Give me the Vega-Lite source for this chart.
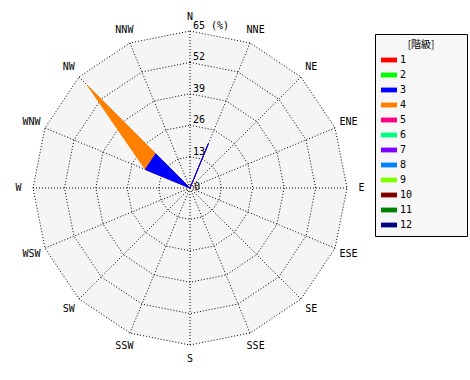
{
  "$schema": "https://vega.github.io/schema/vega-lite/v6.json",
  "width": 314,
  "height": 314,
  "autosize": {"type": "none"},
  "padding": {"left": 33, "top": 31, "right": 123, "bottom": 35},
  "background": "white",
  "view": {"stroke": null},
  "datasets": {
    "dirs": [
      {"dir": "N", "deg": 0}, {"dir": "NNE", "deg": 22.5}, {"dir": "NE", "deg": 45}, {"dir": "ENE", "deg": 67.5},
      {"dir": "E", "deg": 90}, {"dir": "ESE", "deg": 112.5}, {"dir": "SE", "deg": 135}, {"dir": "SSE", "deg": 157.5},
      {"dir": "S", "deg": 180}, {"dir": "SSW", "deg": 202.5}, {"dir": "SW", "deg": 225}, {"dir": "WSW", "deg": 247.5},
      {"dir": "W", "deg": 270}, {"dir": "WNW", "deg": 292.5}, {"dir": "NW", "deg": 315}, {"dir": "NNW", "deg": 337.5}
    ],
    "rings": [
      {"ring": 65, "label": "65 (%)", "deg": [0, 22.5, 45, 67.5, 90, 112.5, 135, 157.5, 180, 202.5, 225, 247.5, 270, 292.5, 315, 337.5]},
      {"ring": 52, "label": "52", "deg": [0, 22.5, 45, 67.5, 90, 112.5, 135, 157.5, 180, 202.5, 225, 247.5, 270, 292.5, 315, 337.5]},
      {"ring": 39, "label": "39", "deg": [0, 22.5, 45, 67.5, 90, 112.5, 135, 157.5, 180, 202.5, 225, 247.5, 270, 292.5, 315, 337.5]},
      {"ring": 26, "label": "26", "deg": [0, 22.5, 45, 67.5, 90, 112.5, 135, 157.5, 180, 202.5, 225, 247.5, 270, 292.5, 315, 337.5]},
      {"ring": 13, "label": "13", "deg": [0, 22.5, 45, 67.5, 90, 112.5, 135, 157.5, 180, 202.5, 225, 247.5, 270, 292.5, 315, 337.5]},
      {"ring": 0, "label": "0", "deg": [0]}
    ],
    "wind": [
      {"dir": "N", "deg": 0, "cls": "3", "pct": 0}, {"dir": "NNE", "deg": 22.5, "cls": "3", "pct": 20},
      {"dir": "NE", "deg": 45, "cls": "3", "pct": 0}, {"dir": "ENE", "deg": 67.5, "cls": "3", "pct": 0},
      {"dir": "E", "deg": 90, "cls": "3", "pct": 0}, {"dir": "ESE", "deg": 112.5, "cls": "3", "pct": 0},
      {"dir": "SE", "deg": 135, "cls": "3", "pct": 0}, {"dir": "SSE", "deg": 157.5, "cls": "3", "pct": 0},
      {"dir": "S", "deg": 180, "cls": "3", "pct": 0}, {"dir": "SSW", "deg": 202.5, "cls": "3", "pct": 0},
      {"dir": "SW", "deg": 225, "cls": "3", "pct": 0}, {"dir": "WSW", "deg": 247.5, "cls": "3", "pct": 0},
      {"dir": "W", "deg": 270, "cls": "3", "pct": 0}, {"dir": "WNW", "deg": 292.5, "cls": "3", "pct": 20},
      {"dir": "NW", "deg": 315, "cls": "3", "pct": 20}, {"dir": "NNW", "deg": 337.5, "cls": "3", "pct": 0},
      {"dir": "N", "deg": 0, "cls": "4", "pct": 0}, {"dir": "NNE", "deg": 22.5, "cls": "4", "pct": 0},
      {"dir": "NE", "deg": 45, "cls": "4", "pct": 0}, {"dir": "ENE", "deg": 67.5, "cls": "4", "pct": 0},
      {"dir": "E", "deg": 90, "cls": "4", "pct": 0}, {"dir": "ESE", "deg": 112.5, "cls": "4", "pct": 0},
      {"dir": "SE", "deg": 135, "cls": "4", "pct": 0}, {"dir": "SSE", "deg": 157.5, "cls": "4", "pct": 0},
      {"dir": "S", "deg": 180, "cls": "4", "pct": 0}, {"dir": "SSW", "deg": 202.5, "cls": "4", "pct": 0},
      {"dir": "SW", "deg": 225, "cls": "4", "pct": 0}, {"dir": "WSW", "deg": 247.5, "cls": "4", "pct": 0},
      {"dir": "W", "deg": 270, "cls": "4", "pct": 0}, {"dir": "WNW", "deg": 292.5, "cls": "4", "pct": 0},
      {"dir": "NW", "deg": 315, "cls": "4", "pct": 40}, {"dir": "NNW", "deg": 337.5, "cls": "4", "pct": 0}
    ]
  },
  "layer": [
    {
      "data": {"name": "rings"},
      "transform": [
        {"filter": "datum.ring == 65"},
        {"flatten": ["deg"]},
        {"calculate": "datum.ring * sin(datum.deg * PI / 180)", "as": "px"},
        {"calculate": "datum.ring * cos(datum.deg * PI / 180)", "as": "py"}
      ],
      "mark": {"type": "line", "interpolate": "linear-closed", "fill": "#f5f5f5", "strokeWidth": 0, "strokeOpacity": 0},
      "encoding": {
        "x": {"field": "px", "type": "quantitative", "scale": {"domain": [-65, 65], "nice": false, "zero": false}, "axis": null},
        "y": {"field": "py", "type": "quantitative", "scale": {"domain": [-65, 65], "nice": false, "zero": false}, "axis": null},
        "order": {"field": "deg", "type": "quantitative"}
      }
    },
    {
      "data": {"name": "rings"},
      "transform": [
        {"filter": "datum.ring > 0"},
        {"flatten": ["deg"]},
        {"calculate": "datum.ring * sin(datum.deg * PI / 180)", "as": "px"},
        {"calculate": "datum.ring * cos(datum.deg * PI / 180)", "as": "py"}
      ],
      "mark": {"type": "line", "interpolate": "linear-closed", "color": "black", "strokeWidth": 1, "strokeDash": [1, 2]},
      "encoding": {
        "x": {"field": "px", "type": "quantitative"},
        "y": {"field": "py", "type": "quantitative"},
        "detail": {"field": "ring", "type": "nominal"},
        "order": {"field": "deg", "type": "quantitative"}
      }
    },
    {
      "data": {"name": "dirs"},
      "transform": [
        {"calculate": "0", "as": "ox"},
        {"calculate": "65 * sin(datum.deg * PI / 180)", "as": "px"},
        {"calculate": "65 * cos(datum.deg * PI / 180)", "as": "py"}
      ],
      "mark": {"type": "rule", "color": "black", "strokeWidth": 1, "strokeDash": [1, 2]},
      "encoding": {
        "x": {"field": "ox", "type": "quantitative"},
        "y": {"field": "ox", "type": "quantitative"},
        "x2": {"field": "px"},
        "y2": {"field": "py"}
      }
    },
    {
      "data": {"name": "wind"},
      "transform": [
        {"stack": "pct", "groupby": ["dir"], "sort": [{"field": "cls", "order": "ascending"}], "as": ["lo", "hi"]},
        {"filter": "datum.cls == '4'"},
        {"calculate": "datum.hi * sin(datum.deg * PI / 180)", "as": "px"},
        {"calculate": "datum.hi * cos(datum.deg * PI / 180)", "as": "py"}
      ],
      "mark": {"type": "line", "interpolate": "linear-closed", "strokeWidth": 1},
      "encoding": {
        "x": {"field": "px", "type": "quantitative"},
        "y": {"field": "py", "type": "quantitative"},
        "order": {"field": "deg", "type": "quantitative"},
        "fill": {"field": "cls", "type": "nominal", "scale": {"domain": ["1","2","3","4","5","6","7","8","9","10","11","12"], "range": ["#ff0000","#00ff00","#0000ff","#ff8000","#ff0080","#00ff80","#8000ff","#0080ff","#80ff00","#800000","#008000","#000080"]},
          "legend": {"title": "[階級]", "orient": "none", "legendX": 342, "legendY": 3, "symbolType": "M-1,-0.3H1V0.3H-1Z", "symbolSize": 256, "symbolStrokeWidth": 0, "rowPadding": 2, "padding": 6, "fillColor": "#f7f7f7", "strokeColor": "black", "titleFont": "Noto Sans CJK JP", "titleFontSize": 10, "titleFontWeight": "normal", "titleColor": "black", "titleAnchor": "middle", "titlePadding": 2, "labelFont": "DejaVu Sans Mono", "labelFontSize": 10, "labelColor": "black", "labelOffset": 3, "labelExpr": "datum.label + '\u00a0\u00a0\u00a0\u00a0\u00a0\u00a0\u00a0\u2002\u200b'"}},
        "stroke": {"field": "cls", "type": "nominal", "scale": {"domain": ["1","2","3","4","5","6","7","8","9","10","11","12"], "range": ["#ff0000","#00ff00","#0000ff","#ff8000","#ff0080","#00ff80","#8000ff","#0080ff","#80ff00","#800000","#008000","#000080"]}, "legend": null}
      }
    },
    {
      "data": {"name": "wind"},
      "transform": [
        {"stack": "pct", "groupby": ["dir"], "sort": [{"field": "cls", "order": "ascending"}], "as": ["lo", "hi"]},
        {"filter": "datum.cls == '3'"},
        {"calculate": "datum.hi * sin(datum.deg * PI / 180)", "as": "px"},
        {"calculate": "datum.hi * cos(datum.deg * PI / 180)", "as": "py"}
      ],
      "mark": {"type": "line", "interpolate": "linear-closed", "strokeWidth": 1},
      "encoding": {
        "x": {"field": "px", "type": "quantitative"},
        "y": {"field": "py", "type": "quantitative"},
        "order": {"field": "deg", "type": "quantitative"},
        "fill": {"field": "cls", "type": "nominal"},
        "stroke": {"field": "cls", "type": "nominal", "legend": null}
      }
    },
    {
      "data": {"name": "dirs"},
      "transform": [
        {"calculate": "71 * sin(datum.deg * PI / 180)", "as": "px"},
        {"calculate": "71 * cos(datum.deg * PI / 180)", "as": "py"}
      ],
      "mark": {"type": "text", "font": "DejaVu Sans Mono", "fontSize": 10, "color": "black", "align": "center", "baseline": "middle"},
      "encoding": {
        "x": {"field": "px", "type": "quantitative"},
        "y": {"field": "py", "type": "quantitative"},
        "text": {"field": "dir"}
      }
    },
    {
      "data": {"name": "rings"},
      "transform": [{"filter": "datum.ring > 0"}, {"calculate": "0", "as": "ox"}],
      "mark": {"type": "text", "font": "DejaVu Sans Mono", "fontSize": 10, "color": "black", "align": "left", "baseline": "alphabetic", "dx": 3, "dy": -2},
      "encoding": {
        "x": {"field": "ox", "type": "quantitative"},
        "y": {"field": "ring", "type": "quantitative"},
        "text": {"field": "label"}
      }
    },
    {
      "data": {"name": "rings"},
      "transform": [{"filter": "datum.ring == 0"}, {"calculate": "0", "as": "ox"}],
      "mark": {"type": "text", "font": "DejaVu Sans Mono", "fontSize": 10, "color": "black", "align": "left", "baseline": "middle", "dx": 4, "dy": -1},
      "encoding": {
        "x": {"field": "ox", "type": "quantitative"},
        "y": {"field": "ring", "type": "quantitative"},
        "text": {"field": "label"}
      }
    }
  ]
}
